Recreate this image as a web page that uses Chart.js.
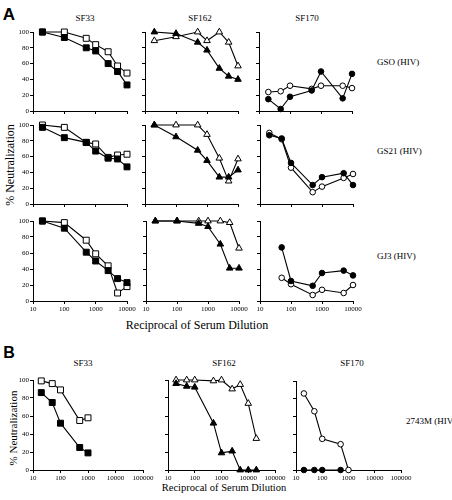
<!DOCTYPE html>
<html><head><meta charset="utf-8">
<script src="https://cdn.jsdelivr.net/npm/chart.js@4"></script>
<style>
body{margin:0;width:452px;height:500px;position:relative;background:#fff;overflow:hidden;font-family:'Liberation Serif',serif;}
canvas{position:absolute;}
.t{position:absolute;white-space:nowrap;transform:translate(-50%,-50%);color:#000;line-height:1;}
.l{position:absolute;white-space:nowrap;transform:translate(0,-50%);color:#000;line-height:1;}
</style></head><body>
<div class="t" style="left:9px;top:15px;font:bold 17px 'Liberation Sans',sans-serif;">A</div>
<div class="t" style="left:9px;top:353px;font:bold 16px 'Liberation Sans',sans-serif;">B</div>
<div class="t" style="left:85px;top:18px;font-size:9px;">SF33</div>
<div class="t" style="left:200px;top:18px;font-size:9px;">SF162</div>
<div class="t" style="left:307px;top:18px;font-size:9px;">SF170</div>
<div class="t" style="left:83px;top:363px;font-size:9px;">SF33</div>
<div class="t" style="left:224px;top:363px;font-size:9px;">SF162</div>
<div class="t" style="left:352px;top:363px;font-size:9px;">SF170</div>
<div class="l" style="left:377px;top:62px;font-size:9px;">GSO (HIV)</div>
<div class="l" style="left:377px;top:151px;font-size:9px;">GS21 (HIV)</div>
<div class="l" style="left:377px;top:256px;font-size:9px;">GJ3 (HIV)</div>
<div class="l" style="left:406px;top:421px;font-size:9px;">2743M (HIV)</div>
<div class="t" style="left:10px;top:165px;font-size:12px;transform:translate(-50%,-50%) rotate(-90deg);">% Neutralization</div>
<div class="t" style="left:13px;top:428px;font-size:11px;transform:translate(-50%,-50%) rotate(-90deg);">% Neutralization</div>
<div class="t" style="left:197px;top:325px;font-size:12px;">Reciprocal of Serum Dilution</div>
<div class="t" style="left:224px;top:488px;font-size:10.5px;">Reciprocal of Serum Dilution</div>
<script>
// ---- data ----
const dilA = [20, 100, 500, 1000, 2500, 5000, 10000];
const dilA170 = [20, 50, 100, 500, 1000, 5000, 10000];
const dilA170r3 = [50, 100, 500, 1000, 5000, 10000];
const dilB = [20, 50, 100, 500, 1000];
const dilB162 = [20, 50, 100, 500, 1000, 2500, 5000, 10000, 20000];
const dilB170closed = [20, 50, 100, 500];

const xTicksA = [10, 100, 1000, 10000];
const xTicksB = [10, 100, 1000, 10000, 100000];
const yTicks = [0, 20, 40, 60, 80, 100];

// Row 1 (GSO)
const gso_sf33_closed = [100, 93, 80, 76, 60, 50, 33];
const gso_sf33_open = [100, 100, 92, 84, 75, 57, 48];
const gso_sf162_closed = [100, 98, 87, 77, 54, 44, 40];
const gso_sf162_open = [89, 94, 100, 89, 100, 87, 57];
const gso_sf170_closed = [15, 2.5, 18, 26, 50, 16, 47];
const gso_sf170_open = [24, 25, 32, 28, 32, 32, 29];
// Row 2 (GS21)
const gs21_sf33_closed = [97, 84, 78, 67, 58, 57, 47];
const gs21_sf33_open = [100, 97, 78, 76, 59, 62, 63];
const gs21_sf162_closed = [100, 85, 68, 55, 34, 34, 43];
const gs21_sf162_open = [100, 100, 100, 88, 58, 29, 57];
const gs21_sf170_closed = [87, 83, 52, 24, 34, 39, 24];
const gs21_sf170_open = [90, 82, 46, 15, 22, 33, 38];
// Row 3 (GJ3)
const gj3_sf33_closed = [100, 91, 61, 50, 38, 28, 23];
const gj3_sf33_open = [100, 98, 76, 59, 44, 10, 18];
const gj3_sf162_closed = [100, 100, 97, 93, 71, 41, 41];
const gj3_sf162_open = [100, 100, 100, 100, 100, 98, 66];
const gj3_sf170_closed = [67, 25, 19, 35, 38, 32];
const gj3_sf170_open = [29, 21, 7.5, 14, 10, 20];
// Panel B (2743M)
const m_sf33_closed = [86, 75, 52, 25, 19];
const m_sf33_open = [99, 96, 89, 55, 58];
const m_sf162_closed = [96, 93, 92, 52, 19, 21, 0, 0, 0];
const m_sf162_open = [100, 100, 100, 99, 100, 90, 95, 74, 35];
const m_sf170_closed = [0, 0, 0, 0];
const m_sf170_open = [86, 66, 35, 29, 0];

// ---- drawing ----
const PADL = 30, PADT = 8, PADR = 20, PADB = 14;
const FONT = {family: "'Liberation Serif', serif", size: 7};

function ds(xs, ys, style, filled) {
  const r = style === 'rect' ? 4.2 : (style === 'triangle' ? 3.8 : 2.8);
  return {
    data: xs.map((x, i) => ({x: x, y: ys[i]})),
    borderColor: '#000', borderWidth: 1.1, tension: 0,
    pointStyle: style, pointRadius: r,
    pointBackgroundColor: filled ? '#000' : '#fff',
    pointBorderColor: '#000', pointBorderWidth: 1,
    clip: false, fill: false
  };
}

function panel(L, T, R, B, xMax, xTicks, showX, showY, datasets) {
  const c = document.createElement('canvas');
  const w = (R - L) + PADL + PADR, h = (B - T) + PADT + PADB;
  c.width = w; c.height = h;
  c.style.left = (L - PADL) + 'px'; c.style.top = (T - PADT) + 'px';
  c.style.width = w + 'px'; c.style.height = h + 'px';
  document.body.appendChild(c);
  const axisCommon = {
    grid: {drawOnChartArea: false, drawTicks: true, tickLength: 3, color: '#000', lineWidth: 1},
    border: {display: true, color: '#000', width: 1}
  };
  new Chart(c, {
    type: 'line',
    data: {datasets: datasets},
    options: {
      responsive: false, animation: false, devicePixelRatio: 1,
      layout: {padding: {left: 0, top: PADT, right: PADR, bottom: 0}},
      plugins: {legend: {display: false}, tooltip: {enabled: false}},
      scales: {
        x: Object.assign({
          type: 'logarithmic', min: 10, max: xMax,
          afterBuildTicks: s => { s.ticks = xTicks.map(v => ({value: v})); },
          afterFit: s => { s.height = PADB; },
          ticks: {display: showX, font: FONT, color: '#000', maxRotation: 0, autoSkip: false, padding: 1,
                  callback: v => String(v)}
        }, axisCommon),
        y: Object.assign({
          type: 'linear', min: 0, max: 100,
          afterBuildTicks: s => { s.ticks = yTicks.map(v => ({value: v})); },
          afterFit: s => { s.width = PADL; },
          ticks: {display: showY, font: FONT, color: '#000', padding: 1}
        }, axisCommon)
      }
    }
  });
}

// Row 1
panel(33, 32, 127, 111, 10000, xTicksA, false, true, [ds(dilA, gso_sf33_closed, 'rect', true), ds(dilA, gso_sf33_open, 'rect', false)]);
panel(145, 32, 238, 111, 10000, xTicksA, false, false, [ds(dilA, gso_sf162_closed, 'triangle', true), ds(dilA, gso_sf162_open, 'triangle', false)]);
panel(259, 32, 352, 111, 10000, xTicksA, false, false, [ds(dilA170, gso_sf170_closed, 'circle', true), ds(dilA170, gso_sf170_open, 'circle', false)]);
// Row 2
panel(33, 125, 127, 204, 10000, xTicksA, false, true, [ds(dilA, gs21_sf33_closed, 'rect', true), ds(dilA, gs21_sf33_open, 'rect', false)]);
panel(145, 125, 238, 204, 10000, xTicksA, false, false, [ds(dilA, gs21_sf162_closed, 'triangle', true), ds(dilA, gs21_sf162_open, 'triangle', false)]);
panel(260, 125, 353, 204, 10000, xTicksA, false, false, [ds(dilA170, gs21_sf170_closed, 'circle', true), ds(dilA170, gs21_sf170_open, 'circle', false)]);
// Row 3
panel(33, 221, 127, 301, 10000, xTicksA, true, true, [ds(dilA, gj3_sf33_closed, 'rect', true), ds(dilA, gj3_sf33_open, 'rect', false)]);
panel(146, 221, 239, 301, 10000, xTicksA, true, false, [ds(dilA, gj3_sf162_closed, 'triangle', true), ds(dilA, gj3_sf162_open, 'triangle', false)]);
panel(260, 221, 353, 301, 10000, xTicksA, true, false, [ds(dilA170r3, gj3_sf170_closed, 'circle', true), ds(dilA170r3, gj3_sf170_open, 'circle', false)]);
// Panel B
panel(33, 380, 143, 470, 100000, xTicksB, true, true, [ds(dilB, m_sf33_closed, 'rect', true), ds(dilB, m_sf33_open, 'rect', false)]);
panel(168, 380, 275, 470, 100000, xTicksB, true, false, [ds(dilB162, m_sf162_closed, 'triangle', true), ds(dilB162, m_sf162_open, 'triangle', false)]);
panel(296, 381, 401, 470, 100000, xTicksB, true, false, [ds(dilB170closed, m_sf170_closed, 'circle', true), ds(dilB, m_sf170_open, 'circle', false)]);
</script>
</body></html>
